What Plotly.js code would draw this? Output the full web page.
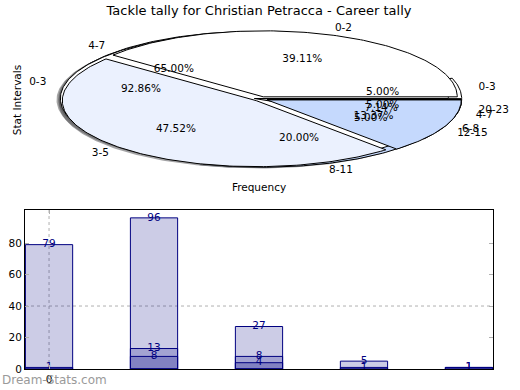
<!DOCTYPE html>
<html>
<head>
<meta charset="utf-8">
<script src="https://cdn.plot.ly/plotly-3.0.1.min.js"></script>
<style>html,body{margin:0;padding:0;background:#fff}#chart{width:520px;height:390px}</style>
</head>
<body>
<div id="chart"></div>
<script>
// ---- Pie data (three overlaid pies) ----
const pieBLabels = ['0-3', '4-7', '8-11', '12-15', '20-23'];
const pieBValues = [1, 13, 4, 1, 1];
const pieCLabels = ['0-3', '4-7'];
const pieCValues = [13, 1];
const pieALabels = ['0-2', '3-5', '6-8'];
const pieAValues = [79, 96, 27];
const pieColors = ['#ffffff', '#ebf1fe', '#c5d9fd', '#a3c2fb', '#84adf9'];

// ---- Bar data ----
const barCategories = [0, 1, 2, 3, 4];
const barSeries1 = [79, 96, 27, 5, 1];
const barSeries2 = [1, 13, 4, 1, 1];
const barSeries3 = [null, 8, 8, null, null];

const titleText = 'Tackle tally for Christian Petracca - Career tally';
const EXPLODE = 0.035;
const SHADOW = 0.02;
const FONT = 'DejaVu Sans';

const shadowTraces = [], wedgeTraces = [], textTraces = [];

function arcPoly(cx, cy, a1, a2) {
  const xs = [cx], ys = [cy];
  const n = Math.max(4, Math.ceil(Math.abs(a2 - a1) / 1.0));
  for (let i = 0; i <= n; i++) {
    const t = (a1 + (a2 - a1) * i / n) * Math.PI / 180;
    xs.push(cx + Math.cos(t));
    ys.push(cy + Math.sin(t));
  }
  xs.push(cx); ys.push(cy);
  return [xs, ys];
}
function shade(hex) {
  const r = parseInt(hex.substr(1, 2), 16), g = parseInt(hex.substr(3, 2), 16), b = parseInt(hex.substr(5, 2), 16);
  return 'rgba(' + Math.round(r * 0.3) + ',' + Math.round(g * 0.3) + ',' + Math.round(b * 0.3) + ',0.5)';
}

function buildPie(labels, values) {
  const total = values.reduce((a, b) => a + b, 0);
  let start = 0;
  const lx = [], ly = [], lt = [], lp = [], px = [], py = [], pt = [];
  values.forEach((v, i) => {
    const sweep = v / total * 360;
    const mid = (start + sweep / 2) * Math.PI / 180;
    const cx = EXPLODE * Math.cos(mid), cy = EXPLODE * Math.sin(mid);
    const col = pieColors[i % pieColors.length];
    const [xs, ys] = arcPoly(cx, cy, start, start + sweep);
    wedgeTraces.push({type: 'scatter', mode: 'lines', x: xs, y: ys, xaxis: 'x2', yaxis: 'y2',
      fill: 'toself', fillcolor: col, line: {color: 'black', width: 1}, hoverinfo: 'skip'});
    shadowTraces.push({type: 'scatter', mode: 'lines', x: xs.map(q => q - SHADOW), y: ys.map(q => q - SHADOW),
      xaxis: 'x2', yaxis: 'y2', fill: 'toself', fillcolor: shade(col), line: {width: 0}, hoverinfo: 'skip'});
    lx.push(cx + 1.1 * Math.cos(mid)); ly.push(cy + 1.1 * Math.sin(mid)); lt.push(labels[i]);
    lp.push(Math.cos(mid) >= 0 ? 'middle right' : 'middle left');
    px.push(cx + 0.6 * Math.cos(mid)); py.push(cy + 0.6 * Math.sin(mid));
    pt.push((v / total * 100).toFixed(2) + '%');
    start += sweep;
  });
  textTraces.push({type: 'scatter', mode: 'text', x: lx, y: ly, text: lt, textposition: lp, xaxis: 'x2', yaxis: 'y2',
    textfont: {family: FONT, size: 10.5, color: 'black'}, cliponaxis: false, hoverinfo: 'skip'});
  textTraces.push({type: 'scatter', mode: 'text', x: px, y: py, text: pt, textposition: 'middle center', xaxis: 'x2', yaxis: 'y2',
    textfont: {family: FONT, size: 10.5, color: 'black'}, cliponaxis: false, hoverinfo: 'skip'});
}
buildPie(pieBLabels, pieBValues);
buildPie(pieCLabels, pieCValues);
buildPie(pieALabels, pieAValues);

// ---- Bars ----
const barFill = 'rgba(0,0,128,0.2)';
const barTraces = [barSeries1, barSeries2, barSeries3].map(s => ({
  type: 'bar', x: barCategories, y: s, width: 0.45, marker: {color: barFill, line: {color: '#000080', width: 1}},
  xaxis: 'x', yaxis: 'y', hoverinfo: 'skip'
}));
const barText = [barSeries1, barSeries2, barSeries3].map(s => ({
  type: 'scatter', mode: 'text', x: barCategories, y: s, text: s.map(v => v == null ? '' : String(v)),
  textposition: 'middle center', textfont: {family: FONT, size: 10.5, color: '#000080'},
  xaxis: 'x', yaxis: 'y', cliponaxis: false, hoverinfo: 'skip'
}));

const H = 369; // plot-area height in px (390 - bottom margin)
const layout = {
  width: 520, height: 390,
  margin: {l: 25, r: 27, t: 0, b: 21},
  paper_bgcolor: 'white', plot_bgcolor: 'white', showlegend: false,
  font: {family: FONT, size: 10, color: 'black'},
  title: {text: titleText, font: {family: FONT, size: 13, color: 'black'}, x: 0.5, xref: 'paper', xanchor: 'center',
    y: 1 - 10 / 390, yref: 'container', yanchor: 'middle'},
  barmode: 'overlay',
  xaxis: {domain: [0, 1], anchor: 'y', range: [-0.229, 4.229], tickvals: [0], ticktext: ['0'],
    ticks: 'inside', ticklen: 4, tickcolor: '#b0b0b0', showline: true, linecolor: 'black', linewidth: 1, mirror: 'ticks',
    showgrid: false, zeroline: false, tickfont: {size: 10.5}},
  yaxis: {domain: [0, (H - 210) / H], anchor: 'x', range: [0, 101], tickvals: [0, 20, 40, 60, 80],
    ticks: 'inside', ticklen: 4, tickcolor: '#b0b0b0', showline: true, linecolor: 'black', linewidth: 1, mirror: 'ticks',
    showgrid: false, zeroline: false, tickfont: {size: 10.5}},
  xaxis2: {domain: [0, 1], anchor: 'y2', range: [-236 / 194, 232 / 194], showline: false, showticklabels: false,
    ticks: '', showgrid: false, zeroline: false, fixedrange: true,
    title: {text: 'Frequency', font: {family: FONT, size: 10.5}, standoff: 5}},
  yaxis2: {domain: [(H - 178) / H, (H - 22) / H], anchor: 'x2', range: [-79 / 66, 77 / 66], showline: false,
    showticklabels: false, ticks: '', showgrid: false, zeroline: false, fixedrange: true,
    title: {text: 'Stat Intervals', font: {family: FONT, size: 10.5}, standoff: 0}},
  shapes: [
    {type: 'line', xref: 'x domain', x0: 0, x1: 1, yref: 'y', y0: 40, y1: 40, layer: 'below',
      line: {color: '#b0b0b0', width: 1, dash: 'dot'}},
    {type: 'line', xref: 'x', x0: 0, x1: 0, yref: 'y domain', y0: 0, y1: 1, layer: 'below',
      line: {color: '#b0b0b0', width: 1, dash: 'dot'}}
  ],
  annotations: [
    {text: 'Dream-Stats.com', xref: 'paper', yref: 'paper', x: -25 / 468, y: (H - 380) / H, xanchor: 'left', yanchor: 'middle',
      showarrow: false, font: {family: FONT, size: 12, color: '#9a9a9a'}}
  ]
};

Plotly.newPlot('chart', [...shadowTraces, ...wedgeTraces, ...textTraces, ...barTraces, ...barText], layout,
  {displayModeBar: false, staticPlot: true});
</script>
</body>
</html>
